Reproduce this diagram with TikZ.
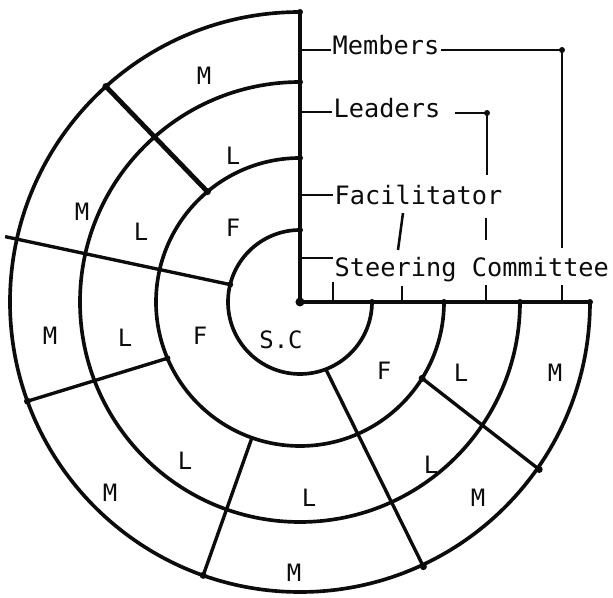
\documentclass[tikz,border=0pt]{standalone}
\usepackage{fontspec}
\newfontfamily\maquina{DejaVu Sans Mono}
\usetikzlibrary{positioning}
\definecolor{Ctinta}{RGB}{12,12,12}

\begin{document}
\begin{tikzpicture}[x=0.025cm, y=0.025cm,
    anel/.style={Ctinta, line width=2.6pt},
    corte/.style={Ctinta, line width=2.4pt},
    guia/.style={Ctinta, line width=1.8pt},
    rotulo/.style={Ctinta, font=\maquina\fontsize{18}{20}\selectfont, inner sep=1pt},
    letra/.style={Ctinta, font=\maquina\fontsize{17}{19}\selectfont, inner sep=0pt}]
  \useasboundingbox (-300,-296) rectangle (313,302);
  % Aneis de 270 graus
  \foreach \r in {72,144,220,290}
    \draw[anel] (0,\r) arc[start angle=90, end angle=360, radius=\r];
  % Eixos
  \coordinate (O) at (0,0);
  \coordinate (topo) at (0,290);
  \coordinate (fim) at (290,0);
  \draw[anel] (topo) -- (O) -- (fim);
  \fill[Ctinta] (O) circle (4.5);
  \foreach \r in {72,144,220,290}
    \fill[Ctinta] (0,\r) circle (3) (\r,0) circle (3);
  % Divisoes entre setores
  \draw[corte] (166:72) -- (167.5:302);
  \draw[corte, line width=3.4pt] (130:144) -- (132:290);
  \draw[corte] (203:144) -- (200:290);
  \draw[corte] (291:72) -- (295:292);
  \draw[corte] (250.5:144) -- (250.5:290);
  \draw[corte] (328:144) -- (325:292);
  \fill[Ctinta] (166:72) circle (3) (132:290) circle (3.5) (130:144) circle (3.5)
    (200:290) circle (3.5) (203:144) circle (3) (295:292) circle (3.5)
    (250.5:290) circle (3.5) (328:144) circle (3.5) (325:292) circle (3.5);
  % Legendas
  \node[rotulo, anchor=base west] (mem) at (31,247) {Members};
  \node[rotulo, anchor=base west] (lid) at (32,184) {Leaders};
  \node[rotulo, anchor=base west] (fac) at (33,97) {Facilitator};
  \node[rotulo, anchor=base west] (sc) at (33,25) {Steering Committee};
  \draw[guia] (0,252) -- (mem.west |- 0,252);
  \draw[guia] (0,190) -- (lid.west |- 0,190);
  \draw[guia] (0,107) -- (fac.west |- 0,107);
  \draw[guia] (0,44) -- (sc.west |- 0,44);
  % Ligacoes ate o eixo horizontal
  \coordinate (cM) at (262,252);
  \coordinate (cL) at (187,189);
  \draw[guia] (mem.east |- cM) -- (cM) -- (262,54);
  \draw[guia] (262,17) -- (262,0);
  \fill[Ctinta] (cM) circle (3);
  \draw[guia] ([xshift=9pt]lid.east |- cL) -- (cL) -- (187,127);
  \draw[guia] (186,84) -- (186,62);
  \draw[guia] (186,17) -- (186,0);
  \fill[Ctinta] (cL) circle (3);
  \draw[guia] (103,89) -- (98,52);
  \draw[guia] (102,16) -- (102,0);
  \draw[guia] (33,20) -- (33,0);
  % Letras dos setores
  \node[letra] (f1) at (-67,74) {F};
  \node[letra] (f2) at (-100,-34) {F};
  \node[letra] (f3) at (84,-69) {F};
  \node[letra] (l1) at (-67,146) {L};
  \node[letra] (l2) at (-159,70) {L};
  \node[letra] (l3) at (-175,-36) {L};
  \node[letra] (l4) at (-115,-159) {L};
  \node[letra] (l5) at (9,-196) {L};
  \node[letra] (l6) at (131,-163) {L};
  \node[letra] (l7) at (161,-71) {L};
  \node[letra] (m1) at (-96,226) {M};
  \node[letra] (m2) at (-218,90) {M};
  \node[letra] (m3) at (-250,-34) {M};
  \node[letra] (m4) at (-190,-191) {M};
  \node[letra] (m5) at (-6,-271) {M};
  \node[letra] (m6) at (178,-196) {M};
  \node[letra] (m7) at (255,-71) {M};
  \node[letra] (sc1) at (-19,-38) {S.C};
\end{tikzpicture}
\end{document}
